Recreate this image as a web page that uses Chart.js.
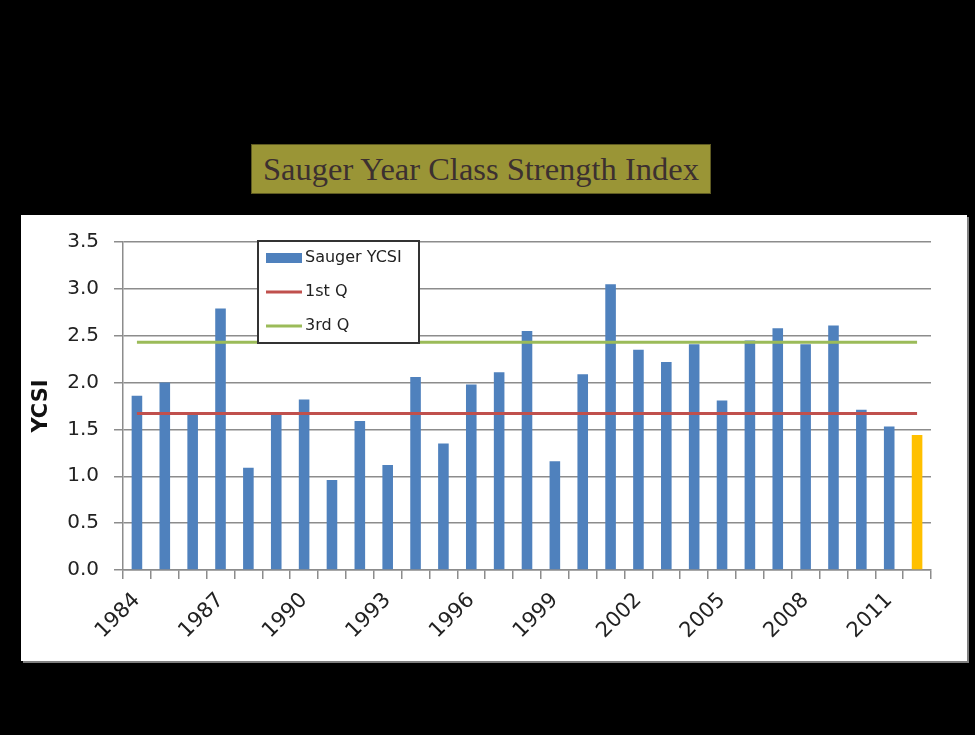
<!DOCTYPE html>
<html>
<head>
<meta charset="utf-8">
<script src="https://cdn.jsdelivr.net/npm/chart.js@4.4.0/dist/chart.umd.min.js"></script>
<style>
  body { margin: 0; background: #000; width: 975px; height: 735px; overflow: hidden; position: relative; }
  #title {
    position: absolute; left: 251px; top: 144px; width: 458px; height: 48px;
    background: #9a9536; border: 1px solid #5f5b22; color: #3c3030;
    font-family: "Liberation Serif", serif; font-size: 32.5px; line-height: 48px; text-align: center;
  }
  #box { position: absolute; left: 21px; top: 215px; width: 946px; height: 446px; background: #fff; box-shadow: 2px 2px 0 #808080; }
</style>
</head>
<body>
<div id="title">Sauger Year Class Strength Index</div>
<div id="box"><canvas id="ycsiChart" width="946" height="446"></canvas></div>
<script>
// Data
const years = ["1984", "1985", "1986", "1987", "1988", "1989", "1990", "1991", "1992", "1993",
  "1994", "1995", "1996", "1997", "1998", "1999", "2000", "2001", "2002", "2003",
  "2004", "2005", "2006", "2007", "2008", "2009", "2010", "2011", "2012"];
const ycsi = [1.86, 2.00, 1.66, 2.79, 1.09, 1.66, 1.82, 0.96, 1.59, 1.12,
  2.06, 1.35, 1.98, 2.11, 2.55, 1.16, 2.09, 3.05, 2.35, 2.22,
  2.41, 1.81, 2.45, 2.58, 2.41, 2.61, 1.71, 1.53, 1.44];
const firstQ = [1.67, 1.67, 1.67, 1.67, 1.67, 1.67, 1.67, 1.67, 1.67, 1.67,
  1.67, 1.67, 1.67, 1.67, 1.67, 1.67, 1.67, 1.67, 1.67, 1.67,
  1.67, 1.67, 1.67, 1.67, 1.67, 1.67, 1.67, 1.67, 1.67];
const thirdQ = [2.43, 2.43, 2.43, 2.43, 2.43, 2.43, 2.43, 2.43, 2.43, 2.43,
  2.43, 2.43, 2.43, 2.43, 2.43, 2.43, 2.43, 2.43, 2.43, 2.43,
  2.43, 2.43, 2.43, 2.43, 2.43, 2.43, 2.43, 2.43, 2.43];
const yTicks = [0, 0.5, 1.0, 1.5, 2.0, 2.5, 3.0, 3.5];
const xTickLabels = ["1984", "1987", "1990", "1993", "1996", "1999", "2002", "2005", "2008", "2011"];

const gridGray = "#8c8c8c";
const tickFont = { family: "DejaVu Sans", size: 20 };

// legend box drawn inside the plot, like the original
const boxLegend = {
  id: "boxLegend",
  afterDraw(chart) {
    const c = chart.ctx;
    const x = 237, y = 26, w = 161, h = 102;
    c.save();
    c.fillStyle = "#fff";
    c.fillRect(x, y, w, h);
    c.strokeStyle = "#333";
    c.lineWidth = 2;
    c.strokeRect(x, y, w, h);
    c.font = "16px 'DejaVu Sans'";
    c.textBaseline = "middle";
    chart.data.datasets.forEach((ds, i) => {
      const cy = y + 17 + i * 34;
      if (ds.type === "line") {
        c.strokeStyle = ds.borderColor;
        c.lineWidth = 3;
        c.beginPath();
        c.moveTo(x + 8, cy);
        c.lineTo(x + 44, cy);
        c.stroke();
      } else {
        c.fillStyle = "#4f81bd";
        c.fillRect(x + 8, cy - 5, 36, 10);
      }
      c.fillStyle = "#222";
      c.fillText(ds.label, x + 47, cy);
    });
    c.restore();
  }
};

new Chart(document.getElementById("ycsiChart"), {
  type: "bar",
  data: {
    labels: years,
    datasets: [
      {
        label: "Sauger YCSI",
        data: ycsi,
        backgroundColor: (ctx) => ctx.dataIndex === ycsi.length - 1 ? "#ffc000" : "#4f81bd",
        barPercentage: 0.38,
        categoryPercentage: 1,
        order: 2
      },
      {
        type: "line",
        label: "1st Q",
        data: firstQ,
        borderColor: "#c0504d",
        borderWidth: 3,
        pointRadius: 0,
        order: 1
      },
      {
        type: "line",
        label: "3rd Q",
        data: thirdQ,
        borderColor: "#9bbb59",
        borderWidth: 3,
        pointRadius: 0,
        order: 1
      }
    ]
  },
  options: {
    responsive: false,
    animation: false,
    devicePixelRatio: 1,
    layout: { padding: { left: 0, top: 24, right: 36, bottom: 0 } },
    plugins: {
      legend: { display: false },
      tooltip: { enabled: false }
    },
    scales: {
      x: {
        afterFit: (scale) => { scale.height = 91; },
        grid: { drawOnChartArea: false, color: gridGray, lineWidth: 1.5, tickLength: 9 },
        border: { color: gridGray, width: 1.5 },
        ticks: {
          autoSkip: false,
          minRotation: 45,
          maxRotation: 45,
          padding: 9,
          color: "#222",
          font: { family: "DejaVu Sans", size: 21 },
          callback: function (value) {
            const lbl = this.getLabelForValue(value);
            return xTickLabels.includes(lbl) ? lbl : "";
          }
        }
      },
      y: {
        min: yTicks[0],
        max: yTicks[yTicks.length - 1],
        afterFit: (scale) => { scale.width = 102; },
        afterBuildTicks: (scale) => { scale.ticks = yTicks.map(v => ({ value: v })); },
        grid: { color: gridGray, lineWidth: 1.5, tickLength: 9 },
        border: { color: gridGray, width: 1.5 },
        ticks: {
          padding: 15,
          color: "#222",
          font: tickFont,
          callback: (v) => v.toFixed(1)
        },
        title: {
          display: true,
          text: "YCSI",
          color: "#111",
          font: { family: "DejaVu Sans", size: 21, weight: "bold" },
          padding: { top: 8, bottom: 0 }
        }
      }
    }
  },
  plugins: [boxLegend]
});
</script>
</body>
</html>
